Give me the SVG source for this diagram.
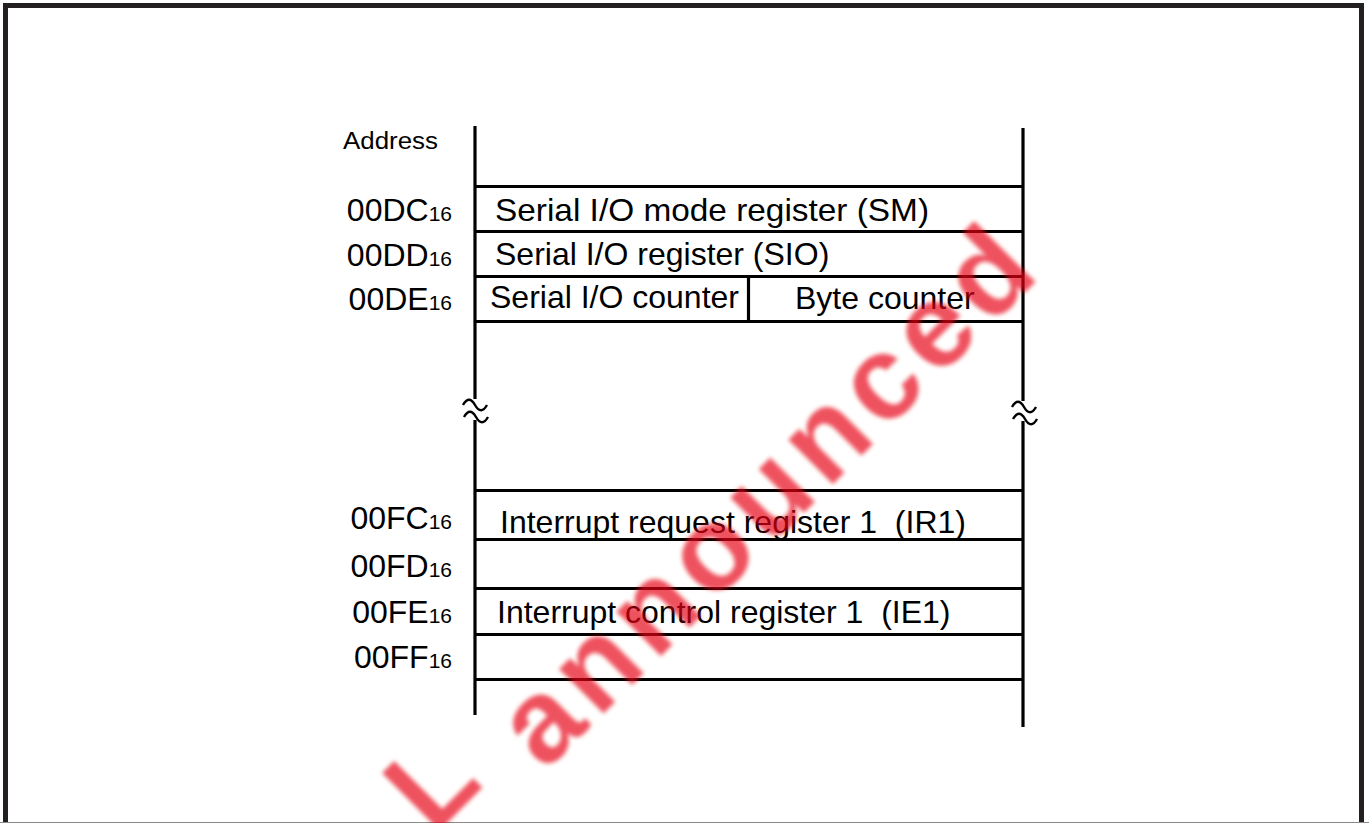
<svg xmlns="http://www.w3.org/2000/svg" width="1369" height="823" viewBox="0 0 1369 823">
<style>
.ln{stroke:#000;stroke-width:3.2;fill:none}
.t{font-family:"Liberation Sans",Arial,sans-serif;font-size:32px;fill:#000}
.s{font-size:21px}
.a{font-family:"Liberation Sans",Arial,sans-serif;font-size:23px;fill:#000}
.br{stroke:#000;stroke-width:2.4;fill:none}
.wm{font-family:"Liberation Sans",Arial,sans-serif;font-weight:bold;font-size:118px;fill:#e60012;opacity:0.68}
</style>
<defs>
<filter id="soft" x="-10%" y="-10%" width="120%" height="120%"><feGaussianBlur stdDeviation="2.2"/></filter>
</defs>
<rect x="0" y="0" width="1369" height="823" fill="#fff"/>
<rect id="frame" x="5.5" y="5.5" width="1356" height="900" fill="none" stroke="#231f20" stroke-width="5"/>
<line x1="0" y1="822.5" x2="1369" y2="822.5" stroke="#8a8a8a" stroke-width="1"/>

<g id="connectors">
<line class="ln" x1="475" y1="126" x2="475" y2="399"/>
<line class="ln" x1="475" y1="420" x2="475" y2="715"/>
<line class="ln" x1="1023" y1="128" x2="1023" y2="401"/>
<line class="ln" x1="1023" y1="421" x2="1023" y2="727"/>
</g>

<g id="break-left">
<path class="br" d="M463,405 c4,-7 8,-7 12,0 s8,7 12,0"/>
<path class="br" d="M464,417 c4,-7 8,-7 12,0 s8,7 12,0"/>
</g>
<g id="break-right">
<path class="br" d="M1012,407 c4,-7 8,-7 12,0 s8,7 12,0"/>
<path class="br" d="M1013,419 c4,-7 8,-7 12,0 s8,7 12,0"/>
</g>

<text class="a" x="343" y="149" textLength="95" lengthAdjust="spacingAndGlyphs">Address</text>

<g id="row-00DC">
<line class="ln" x1="475" y1="186.5" x2="1023" y2="186.5"/>
<text class="t" x="452" y="221" text-anchor="end">00DC<tspan class="s">16</tspan></text>
<text class="t" x="495" y="221" textLength="434" lengthAdjust="spacingAndGlyphs">Serial I/O mode register (SM)</text>
</g>
<g id="row-00DD">
<line class="ln" x1="475" y1="231.5" x2="1023" y2="231.5"/>
<text class="t" x="452" y="266" text-anchor="end">00DD<tspan class="s">16</tspan></text>
<text class="t" x="495" y="265">Serial I/O register (SIO)</text>
</g>
<g id="row-00DE">
<line class="ln" x1="475" y1="276.5" x2="1023" y2="276.5"/>
<line class="ln" x1="748.5" y1="276.5" x2="748.5" y2="321.5"/>
<line class="ln" x1="475" y1="321.5" x2="1023" y2="321.5"/>
<text class="t" x="452" y="310" text-anchor="end">00DE<tspan class="s">16</tspan></text>
<text class="t" x="490" y="308">Serial I/O counter</text>
<text class="t" x="795" y="309">Byte counter</text>
</g>

<g id="row-00FC">
<line class="ln" x1="475" y1="490.5" x2="1023" y2="490.5"/>
<text class="t" x="452" y="529" text-anchor="end">00FC<tspan class="s">16</tspan></text>
<text class="t" x="500" y="533" xml:space="preserve">Interrupt request register 1  (IR1)</text>
</g>
<g id="row-00FD">
<line class="ln" x1="475" y1="539.5" x2="1023" y2="539.5"/>
<text class="t" x="452" y="577" text-anchor="end">00FD<tspan class="s">16</tspan></text>
</g>
<g id="row-00FE">
<line class="ln" x1="475" y1="588.5" x2="1023" y2="588.5"/>
<text class="t" x="452" y="623" text-anchor="end">00FE<tspan class="s">16</tspan></text>
<text class="t" x="497" y="623" xml:space="preserve">Interrupt control register 1  (IE1)</text>
</g>
<g id="row-00FF">
<line class="ln" x1="475" y1="634.5" x2="1023" y2="634.5"/>
<text class="t" x="452" y="668" text-anchor="end">00FF<tspan class="s">16</tspan></text>
<line class="ln" x1="475" y1="679.5" x2="1023" y2="679.5"/>
</g>

<g id="watermark" filter="url(#soft)">
<text class="wm" transform="translate(434,836) rotate(-45)">L</text>
<text class="wm" transform="translate(545,772) rotate(-45)" letter-spacing="9">announced</text>
</g>
</svg>
